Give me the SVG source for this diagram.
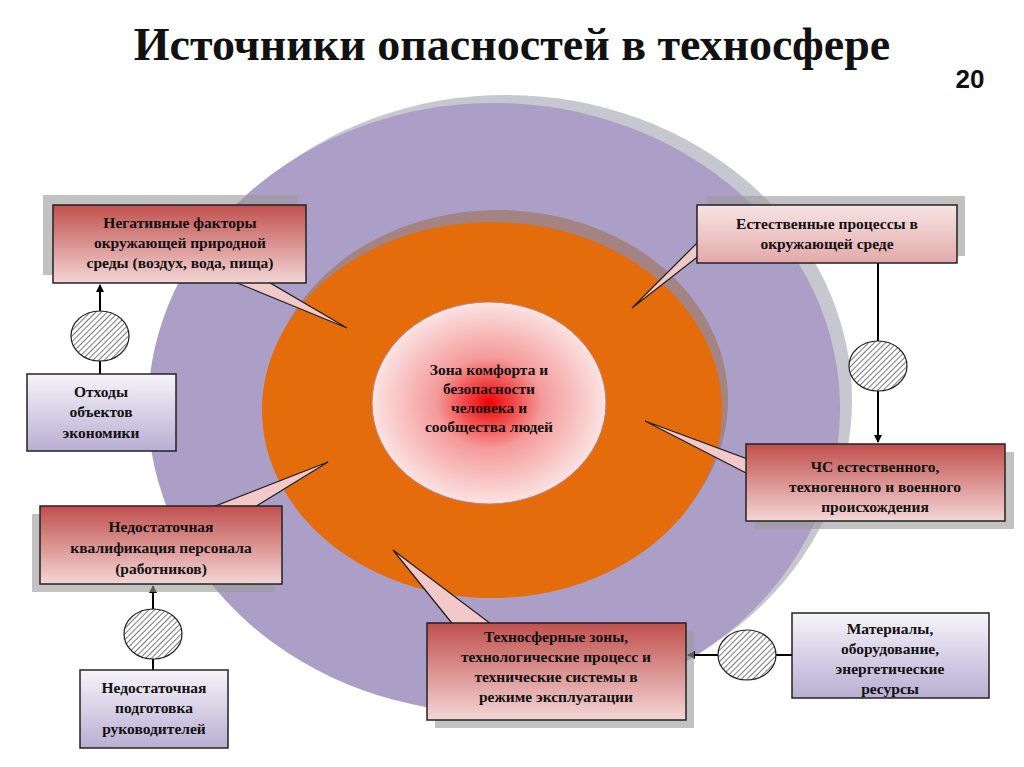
<svg xmlns="http://www.w3.org/2000/svg" width="1024" height="767" viewBox="0 0 1024 767">
<defs>
<linearGradient id="red" x1="0" y1="0" x2="0" y2="1"><stop offset="0" stop-color="#c0504d"/><stop offset="1" stop-color="#f4d6d6"/></linearGradient>
<linearGradient id="pink" x1="0" y1="0" x2="0" y2="1"><stop offset="0" stop-color="#f7e4e4"/><stop offset="1" stop-color="#e3a9a9"/></linearGradient>
<linearGradient id="lav" x1="0" y1="0" x2="0" y2="1"><stop offset="0" stop-color="#f6f4fa"/><stop offset="1" stop-color="#b9aed3"/></linearGradient>
<radialGradient id="core" cx="0.5" cy="0.5" r="0.5"><stop offset="0" stop-color="#f00000"/><stop offset="0.45" stop-color="#f59a9a"/><stop offset="1" stop-color="#fbe3e3"/></radialGradient>
<pattern id="hatch" width="4" height="4" patternUnits="userSpaceOnUse" patternTransform="rotate(45)"><rect width="4" height="4" fill="#fff"/><line x1="0" y1="0" x2="0" y2="4" stroke="#333" stroke-width="1.3"/></pattern>
<marker id="arr" markerWidth="8" markerHeight="8" refX="7" refY="4" orient="auto" markerUnits="userSpaceOnUse"><path d="M0,0 L8,4 L0,8 z" fill="#000"/></marker>
<style>
.t{font-family:"Liberation Serif",serif;font-weight:bold;font-size:15.5px;text-anchor:middle;fill:#111}
.box{stroke:#222;stroke-width:1.5}
.sh{fill:#999;opacity:0.6}
.tail{fill:#f2c8c8;stroke:#222;stroke-width:1.3}
.h{fill:url(#hatch);stroke:#222;stroke-width:1.2}
.ln{stroke:#000;stroke-width:2;fill:none}
</style>
</defs>
<rect width="1024" height="767" fill="#fff"/>
<text x="512" y="60" font-family="Liberation Serif,serif" font-weight="bold" font-size="46" text-anchor="middle" fill="#111">Источники опасностей в техносфере</text>
<text x="970" y="88" font-family="Liberation Sans,sans-serif" font-weight="bold" font-size="26" text-anchor="middle" fill="#111">20</text>
<g id="rings">
<ellipse cx="506" cy="400" rx="346" ry="305" fill="#8f8f9f" opacity="0.5"/>
<ellipse cx="494" cy="408" rx="346" ry="305" fill="#ac9fc7"/>
<ellipse cx="498" cy="400" rx="230" ry="190" fill="#9a6a40" opacity="0.5"/>
<ellipse cx="492" cy="410" rx="230" ry="188" fill="#e46c0a"/>
<ellipse cx="489" cy="403" rx="117" ry="101" fill="url(#core)" stroke="#c08080" stroke-width="1"/>
</g>
<g id="core-label"><text class="t" x="489" y="375">Зона комфорта и</text><text class="t" x="489" y="394">безопасности</text><text class="t" x="489" y="413">человека и</text><text class="t" x="489" y="432">сообщества людей</text></g>
<g id="connectors">
<line class="ln" x1="100" y1="374" x2="100" y2="285" marker-end="url(#arr)"/>
<line class="ln" x1="878" y1="263" x2="878" y2="442" marker-end="url(#arr)"/>
<line class="ln" x1="153" y1="670" x2="153" y2="586" marker-end="url(#arr)"/>
<line class="ln" x1="792" y1="655" x2="688" y2="655" marker-end="url(#arr)"/>
<ellipse class="h" cx="100" cy="336" rx="29" ry="25"/>
<ellipse class="h" cx="878" cy="366" rx="29" ry="25"/>
<ellipse class="h" cx="153" cy="634" rx="29" ry="25"/>
<ellipse class="h" cx="747" cy="655" rx="29" ry="25"/>
</g>
<g id="n1"><rect class="sh" x="43" y="195" width="255" height="80"/><polygon class="tail" points="230,280 265,280 347,328"/><rect class="box" x="53" y="205" width="253" height="78" fill="url(#red)"/><text class="t" x="180" y="228">Негативные факторы</text><text class="t" x="180" y="248">окружающей природной</text><text class="t" x="180" y="268">среды (воздух, вода, пища)</text></g>
<g id="n2"><rect class="box" x="27" y="374" width="149" height="77" fill="url(#lav)"/><text class="t" x="101" y="397">Отходы</text><text class="t" x="101" y="417">объектов</text><text class="t" x="101" y="438">экономики</text></g>
<g id="n3"><rect class="sh" x="707" y="196" width="258" height="60"/><polygon class="tail" points="700,255 700,240 632,308"/><rect class="box" x="697" y="205" width="260" height="58" fill="url(#pink)"/><text class="t" x="827" y="229">Естественные процессы в</text><text class="t" x="827" y="249">окружающей среде</text></g>
<g id="n4"><rect class="sh" x="754" y="452" width="260" height="77"/><polygon class="tail" points="750,460 750,475 645,421"/><rect class="box" x="746" y="444" width="259" height="77" fill="url(#red)"/><text class="t" x="875" y="472">ЧС естественного,</text><text class="t" x="875" y="492">техногенного и военного</text><text class="t" x="875" y="512">происхождения</text></g>
<g id="n5"><rect class="sh" x="32" y="514" width="242" height="78"/><polygon class="tail" points="205,510 250,510 328,462"/><rect class="box" x="40" y="506" width="242" height="78" fill="url(#red)"/><text class="t" x="161" y="532">Недостаточная</text><text class="t" x="161" y="553">квалификация персонала</text><text class="t" x="161" y="574">(работников)</text></g>
<g id="n6"><rect class="box" x="80" y="670" width="148" height="78" fill="url(#lav)"/><text class="t" x="154" y="693">Недостаточная</text><text class="t" x="154" y="713">подготовка</text><text class="t" x="154" y="734">руководителей</text></g>
<g id="n7"><rect class="sh" x="435" y="631" width="259" height="97"/><polygon class="tail" points="455,627 495,627 393,550"/><rect class="box" x="427" y="623" width="259" height="97" fill="url(#red)"/><text class="t" x="556" y="642">Техносферные зоны,</text><text class="t" x="556" y="662">технологические процесс и</text><text class="t" x="556" y="682">технические системы в</text><text class="t" x="556" y="702">режиме эксплуатации</text></g>
<g id="n8"><rect class="box" x="792" y="613" width="197" height="85" fill="url(#lav)"/><text class="t" x="890" y="634">Материалы,</text><text class="t" x="890" y="654">оборудование,</text><text class="t" x="890" y="674">энергетические</text><text class="t" x="890" y="694">ресурсы</text></g>
</svg>
